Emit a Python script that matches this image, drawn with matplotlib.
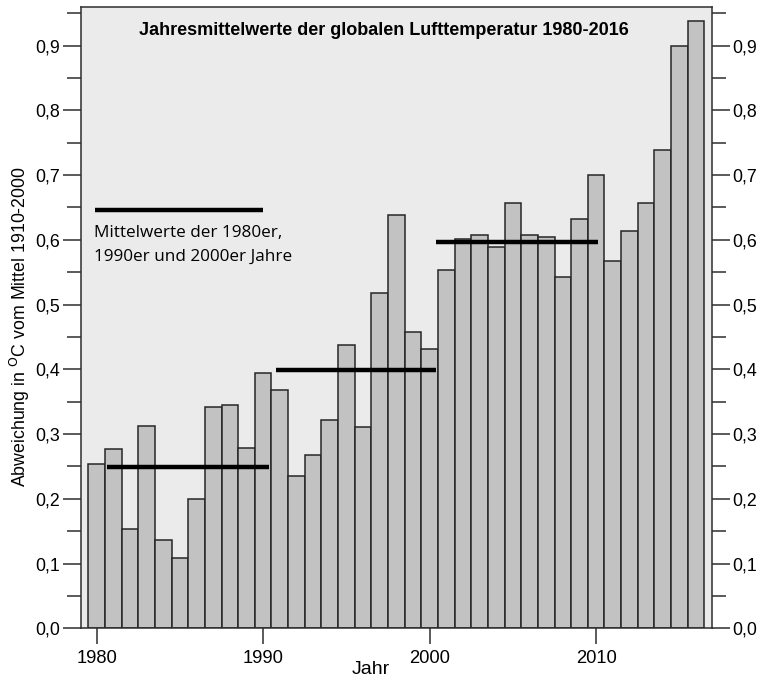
import numpy as np
import matplotlib
matplotlib.use("Agg")
import matplotlib.pyplot as plt
from matplotlib.ticker import FuncFormatter, MultipleLocator

# Jahresmittel der globalen Lufttemperatur, Abweichung vom Mittel 1910-2000
years = list(range(1980, 2017))
anomaly = [
    0.254, 0.277, 0.154, 0.312, 0.136, 0.109, 0.199, 0.342, 0.345, 0.278,
    0.395, 0.368, 0.235, 0.267, 0.322, 0.437, 0.311, 0.518, 0.638, 0.457,
    0.431, 0.553, 0.601, 0.607, 0.589, 0.657, 0.607, 0.605, 0.542, 0.632,
    0.700, 0.567, 0.614, 0.657, 0.738, 0.900, 0.938,
]

# Dekadenmittel: (von, bis, wert)
decade_start = [1980.6, 1990.75, 2000.4]
decade_end = [1990.35, 2000.4, 2010.1]
decade_mean = [0.249, 0.399, 0.596]

title = "Jahresmittelwerte der globalen Lufttemperatur 1980-2016"
legend_lines = ["Mittelwerte der 1980er,", "1990er und 2000er Jahre"]
xtick_years = [1980, 1990, 2000, 2010]

plt.rcParams["font.family"] = ["Liberation Sans", "DejaVu Sans"]

W, H = 763, 682
fig = plt.figure(figsize=(W / 100, H / 100), dpi=100)
ax = fig.add_axes([81 / W, 1 - 628.3 / H, (711.7 - 81) / W, (628.3 - 6.7) / H])
ax.set_facecolor("#ebebeb")

ax.bar(years, anomaly, width=1.0, color="#c2c2c2", edgecolor="#262626",
       linewidth=1.1, zorder=2)
ax.hlines(decade_mean, decade_start, decade_end, color="black", linewidth=3.2, zorder=3)

# Legende
ax.hlines(0.6465, 1979.9, 1990.0, color="black", linewidth=3.2, zorder=3)
for yv, line in zip([0.611, 0.574], legend_lines):
    ax.text(1979.85, yv, line, family=["Open Sans", "DejaVu Sans"], fontsize=12.3,
            va="center", ha="left")

ax.text(0.48, 0.961, title, transform=ax.transAxes, ha="center", va="center",
        fontsize=13, fontweight="bold")

ax.set_xlim(1979.06, 2016.94)
ax.set_ylim(0, 0.96)

ax.set_xticks(xtick_years)
ax.yaxis.set_major_locator(MultipleLocator(0.1))
ax.yaxis.set_minor_locator(MultipleLocator(0.05))
ax.yaxis.set_major_formatter(FuncFormatter(lambda v, p: f"{v:.1f}".replace(".", ",")))

ax.tick_params(axis="x", direction="out", length=11.5, width=1.1, color="#2e2e2e",
               labelsize=13.2, pad=4)
ax.tick_params(axis="y", which="major", direction="out", length=13, width=1.1,
               color="#2e2e2e", labelsize=12.8, pad=2, left=True, right=True,
               labelleft=True, labelright=True)
ax.tick_params(axis="y", which="minor", direction="out", length=10, width=1.1,
               color="#2e2e2e", left=True, right=True)

for s in ax.spines.values():
    s.set_color("#2e2e2e")
    s.set_linewidth(1.1)

fig.text(20 / W, 1 - 327 / H, "Abweichung in $^{\\mathrm{O}}$C vom Mittel 1910-2000",
         rotation=90, ha="center", va="center", fontsize=12.8)
fig.text(371 / W, 1 - 670 / H, "Jahr", ha="center", va="center", fontsize=14)

fig.savefig("out.png", dpi=100)
